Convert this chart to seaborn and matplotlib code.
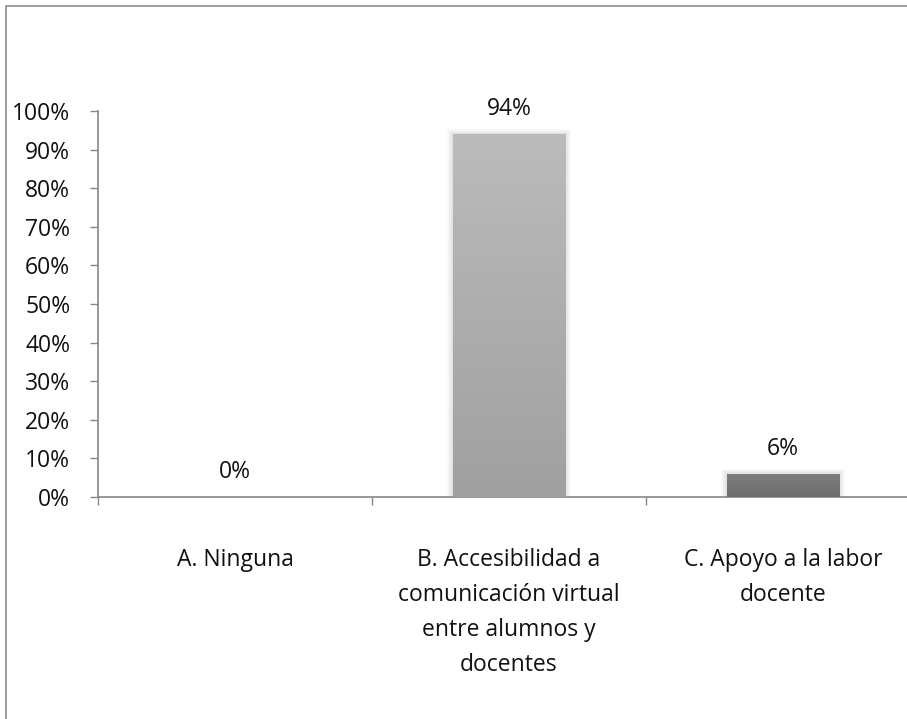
import numpy as np
import pandas as pd
import matplotlib
matplotlib.use("Agg")
import matplotlib.pyplot as plt
import matplotlib.patches as mpatches
import seaborn as sns
from matplotlib.ticker import FuncFormatter

categories = ["A. Ninguna",
              "B. Accesibilidad a\ncomunicación virtual\nentre alumnos y\ndocentes",
              "C. Apoyo a la labor\ndocente"]
values = [0.0, 0.94, 0.06]
labels = ["0%", "94%", "6%"]
yticks = [0, 0.1, 0.2, 0.3, 0.4, 0.5, 0.6, 0.7, 0.8, 0.9, 1.0]

top_colors = ["#c4c4c4", "#bbbbbb", "#7e7e7e"]
bottom_colors = ["#a0a0a0", "#a0a0a0", "#6e6e6e"]

sns.set_theme(style="white")
plt.rcParams['font.family'] = ['Open Sans', 'DejaVu Sans']

FS = 16.5
fig = plt.figure(figsize=(9.07, 7.19), dpi=100)
W, H = 907, 719
ax = fig.add_axes([98 / W, (H - 497) / H, (920 - 98) / W, (497 - 111) / H])

df = pd.DataFrame({"cat": categories, "val": values})
sns.barplot(data=df, x="cat", y="val", hue="cat", palette=bottom_colors,
            width=0.41, legend=False, ax=ax, saturation=1)

ax.set_xlim(-0.5, 2.5)
ax.set_ylim(0, 1.0)

# gradient fill + soft shadow
for i, p in enumerate(ax.patches):
    x0, w, h = p.get_x(), p.get_width(), p.get_height()
    if h <= 0:
        continue
    c1 = np.array(matplotlib.colors.to_rgb(top_colors[i]))
    c2 = np.array(matplotlib.colors.to_rgb(bottom_colors[i]))
    t = np.linspace(0, 1, 100)[:, None]
    grad = (c1 * (1 - t) + c2 * t)[:, None, :]
    for k in range(6):
        d = 0.0035 * (k + 1)
        sh = mpatches.Rectangle((x0 - d, 0), w + 2 * d, h + d * 0.6,
                                facecolor="black", alpha=0.018, edgecolor="none", zorder=1)
        ax.add_patch(sh)
    im = ax.imshow(grad, extent=[x0, x0 + w, 0, h], aspect="auto", zorder=3,
                   origin="upper")
    im.set_clip_path(p)
    p.set_zorder(2)
    p.set_edgecolor("none")

for i, (v, lab) in enumerate(zip(values, labels)):
    ax.annotate(lab, (i, v), xytext=(0, 18), textcoords="offset points",
                ha="center", va="center", fontsize=FS, color="#111111")

ax.set_yticks(yticks)
ax.yaxis.set_major_formatter(FuncFormatter(lambda v, _: f"{int(round(v * 100))}%"))
ax.set_xticks([0, 1, 2])
ax.set_xticklabels(categories, fontsize=FS, color="#111111", linespacing=1.6)
ax.tick_params(axis="y", labelsize=FS, labelcolor="#111111", length=6,
               width=1, color="#868686", left=True, direction="out", pad=14)
ax.tick_params(axis="x", length=0, pad=37)
ax.set_xticks([-0.5, 0.5, 1.5, 2.5], minor=True)
ax.tick_params(axis="x", which="minor", length=6, width=1, color="#868686",
               bottom=True, direction="out")
ax.set_xlabel("")
ax.set_ylabel("")

for s in ["top", "right"]:
    ax.spines[s].set_visible(False)
for s in ["left", "bottom"]:
    ax.spines[s].set_color("#868686")
    ax.spines[s].set_linewidth(1.2)

# outer chart border
border = mpatches.Rectangle((6 / W, -0.1), 1.2, (H - 6) / H + 0.1,
                            transform=fig.transFigure, fill=False,
                            edgecolor="#8c8c8c", linewidth=1.2)
fig.patches.append(border)

fig.savefig("out.png", dpi=100)
